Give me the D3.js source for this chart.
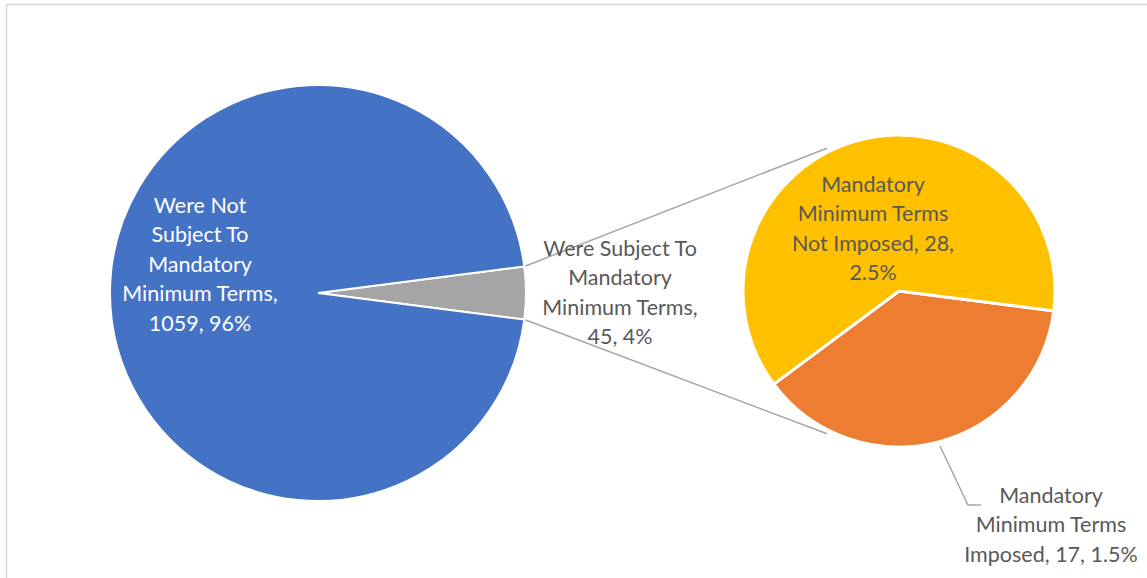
<!DOCTYPE html>
<html>
<head>
<meta charset="utf-8">
<script src="https://cdn.jsdelivr.net/npm/d3@7"></script>
<style>
  body { margin: 0; background: #fff; }
  svg { display: block; }
  text { font-family: Lato, "Open Sans", sans-serif; font-size: 21.5px; }
</style>
</head>
<body>
<div id="chart"></div>
<script>
// main pie
var mainNames = ["Were Subject To Mandatory Minimum Terms", "Were Not Subject To Mandatory Minimum Terms"];
var mainValues = [45, 1059];
var mainColors = ["#A5A5A5", "#4472C4"];
var mainLabelLines = [
    ["Were Subject To", "Mandatory", "Minimum Terms,", "45, 4%"],
    ["Were Not", "Subject To", "Mandatory", "Minimum Terms,", "1059, 96%"]
];

// secondary pie (split of the grey slice)
var subNames = ["Mandatory Minimum Terms Imposed", "Mandatory Minimum Terms Not Imposed"];
var subValues = [17, 28];
var subColors = ["#ED7D31", "#FFC000"];
var subLabelLines = [
    ["Mandatory", "Minimum Terms", "Imposed, 17, 1.5%"],
    ["Mandatory", "Minimum Terms", "Not Imposed, 28,", "2.5%"]
];

(function() {
    var width = 1147, height = 578;
    var main = { cx: 318, cy: 293, r: 208 };
    var sub = { cx: 899, cy: 291, r: 156 };
    var lineH = 29.5;

    var svg = d3.select("#chart").append("svg")
        .attr("width", width)
        .attr("height", height);

    // chart frame (cut off at right and bottom)
    svg.append("rect")
        .attr("x", 6.5).attr("y", 4.5)
        .attr("width", 1300).attr("height", 1000)
        .attr("fill", "none")
        .attr("stroke", "#d9d9d9")
        .attr("stroke-width", 1.5);

    var total = d3.sum(mainValues);
    var half = mainValues[0] / total * Math.PI;   // half of grey slice angle

    var mainPie = d3.pie().sort(null)
        .startAngle(Math.PI / 2 - half)
        .endAngle(Math.PI / 2 - half + 2 * Math.PI);
    var subPie = d3.pie().sort(null)
        .startAngle(Math.PI / 2 + half)
        .endAngle(Math.PI / 2 + half + 2 * Math.PI);

    var mainArcs = mainPie(mainValues);
    var subArcs = subPie(subValues);

    var arcMain = d3.arc().innerRadius(0).outerRadius(main.r);
    var arcSub = d3.arc().innerRadius(0).outerRadius(sub.r);

    // connector lines from grey slice to secondary pie
    var g0 = mainArcs[0];
    var connAng = 117.5 * Math.PI / 180;
    [[g0.startAngle, -1], [g0.endAngle, 1]].forEach(function(p) {
        var a = p[0];
        var x1 = main.cx + main.r * Math.sin(a);
        var y1 = main.cy - main.r * Math.cos(a);
        var x2 = sub.cx + sub.r * Math.cos(connAng);
        var y2 = sub.cy + p[1] * (sub.r + 5) * Math.sin(connAng);
        svg.append("line")
            .attr("x1", x1).attr("y1", y1)
            .attr("x2", x2).attr("y2", y2)
            .attr("stroke", "#a6a6a6")
            .attr("stroke-width", 1.5);
    });

    svg.append("g")
        .attr("transform", "translate(" + main.cx + "," + main.cy + ")")
        .selectAll("path")
        .data(mainArcs)
        .enter().append("path")
        .attr("d", arcMain)
        .attr("fill", function(d, i) { return mainColors[i]; })
        .attr("stroke", "#fff")
        .attr("stroke-width", 2);

    svg.append("g")
        .attr("transform", "translate(" + sub.cx + "," + sub.cy + ")")
        .selectAll("path")
        .data(subArcs)
        .enter().append("path")
        .attr("d", arcSub)
        .attr("fill", function(d, i) { return subColors[i]; })
        .attr("stroke", "#fff")
        .attr("stroke-width", 3);

    // leader line for the orange slice label
    svg.append("polyline")
        .attr("points", "940,446 968,505 981,505")
        .attr("fill", "none")
        .attr("stroke", "#a6a6a6")
        .attr("stroke-width", 1.5);

    // labels: [lines, center x, first line center y, colour]
    var labels = [
        [mainLabelLines[1], 200, 205, "#ffffff"],
        [mainLabelLines[0], 620, 248, "#595959"],
        [subLabelLines[1], 873, 184, "#595959"],
        [subLabelLines[0], 1051, 495, "#595959"]
    ];
    labels.forEach(function(l) {
        var t = svg.append("text")
            .attr("text-anchor", "middle")
            .attr("fill", l[3]);
        l[0].forEach(function(s, i) {
            t.append("tspan")
                .attr("x", l[1])
                .attr("y", l[2] + i * lineH)
                .attr("dy", "0.35em")
                .text(s);
        });
    });
})();
</script>
</body>
</html>
